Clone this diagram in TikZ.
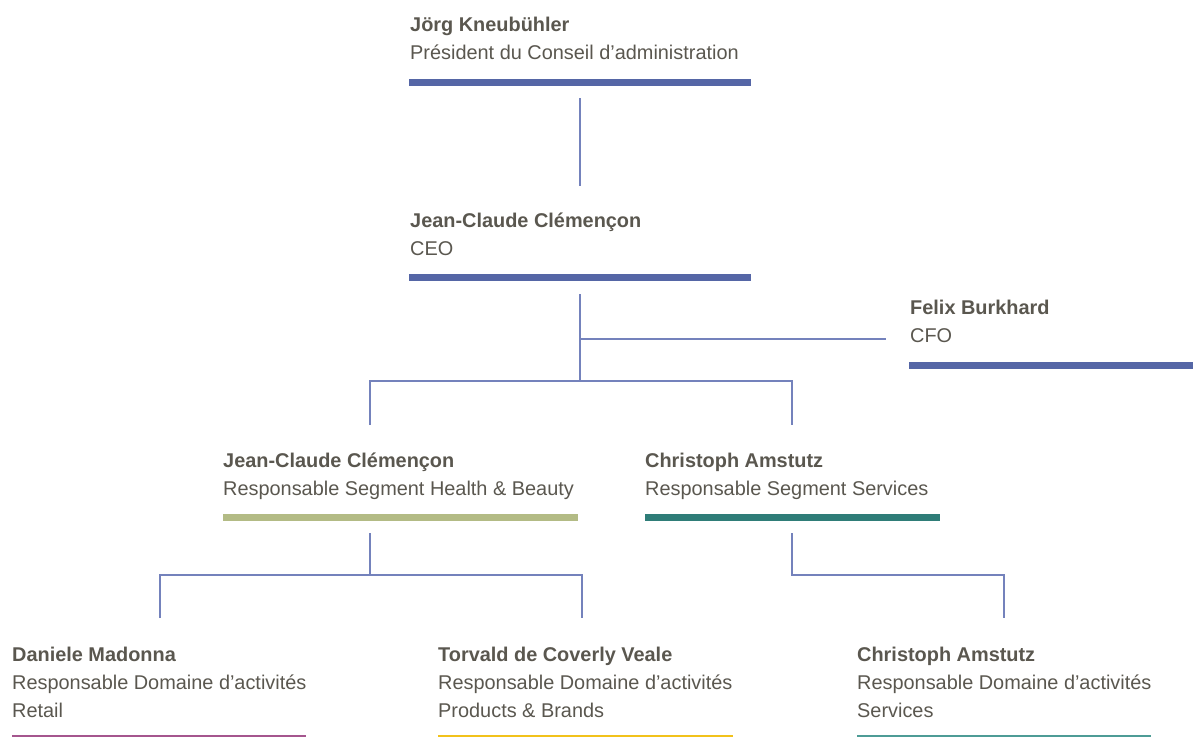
\documentclass[tikz,border=0pt]{standalone}
\usepackage{fontspec}
\setmainfont{Liberation Sans}
\usepackage{xcolor}
\definecolor{txtgray}{HTML}{5A574F}
\definecolor{boardblue}{HTML}{5566A6}
\definecolor{linkblue}{HTML}{7482BC}
\definecolor{hbolive}{HTML}{B3BB85}
\definecolor{servteal}{HTML}{2F7D78}
\definecolor{retailmag}{HTML}{A5568E}
\definecolor{brandyel}{HTML}{F2C21B}
\definecolor{svclight}{HTML}{4E9C96}
\tikzstyle{who} = [anchor=base west, inner sep=0pt, text=txtgray, font=\fontsize{19.9}{24}\selectfont\bfseries]
\tikzstyle{role} = [anchor=base west, inner sep=0pt, text=txtgray, font=\fontsize{19.9}{24}\selectfont]
\tikzstyle{bar} = [anchor=north west, inner sep=0pt, draw=none, minimum height=7pt]
\tikzstyle{rule} = [anchor=north west, inner sep=0pt, draw=none, minimum height=1.5pt]
\tikzstyle{link} = [draw=linkblue, line width=1.5pt]

\begin{document}
\begin{tikzpicture}[x=1pt,y=-1pt]
  \useasboundingbox (0,0) rectangle (1193,737);

  % board and management
  \node[who] (vrp) at (410,31) {Jörg Kneubühler};
  \node[role] (vrp_r) at (410,59) {Président du Conseil d’administration};
  \node[bar, fill=boardblue, minimum width=342pt] (vrp_b) at (409,79) {};

  \node[who] (ceo) at (410,227) {Jean-Claude Clémençon};
  \node[role] (ceo_r) at (410,255) {CEO};
  \node[bar, fill=boardblue, minimum width=342pt] (ceo_b) at (409,274) {};

  \node[who] (cfo) at (910,314) {Felix Burkhard};
  \node[role] (cfo_r) at (910,342) {CFO};
  \node[bar, fill=boardblue, minimum width=284pt] (cfo_b) at (909,362) {};

  % segments
  \node[who] (hb) at (223,467) {Jean-Claude Clémençon};
  \node[role] (hb_r) at (223,495) {Responsable Segment Health \& Beauty};
  \node[bar, fill=hbolive, minimum width=355pt] (hb_b) at (223,514) {};

  \node[who] (sv) at (645,467) {Christoph Amstutz};
  \node[role] (sv_r) at (645,495) {Responsable Segment Services};
  \node[bar, fill=servteal, minimum width=295pt] (sv_b) at (645,514) {};

  % business units
  \node[who] (rt) at (12,661) {Daniele Madonna};
  \node[role] (rt_r) at (12,689) {Responsable Domaine d’activités};
  \node[role] (rt_s) at (12,717) {Retail};
  \node[rule, fill=retailmag, minimum width=294pt] (rt_b) at (12,735) {};

  \node[who] (pb) at (438,661) {Torvald de Coverly Veale};
  \node[role] (pb_r) at (438,689) {Responsable Domaine d’activités};
  \node[role] (pb_s) at (438,717) {Products \& Brands};
  \node[rule, fill=brandyel, minimum width=295pt] (pb_b) at (438,735) {};

  \node[who] (bs) at (857,661) {Christoph Amstutz};
  \node[role] (bs_r) at (857,689) {Responsable Domaine d’activités};
  \node[role] (bs_s) at (857,717) {Services};
  \node[rule, fill=svclight, minimum width=294pt] (bs_b) at (857,735) {};

  % connector ends
  \coordinate (vrp_o) at (580,98);
  \coordinate (ceo_i) at (580,186);
  \coordinate (ceo_o) at (580,294);
  \coordinate (ceo_j) at (580,339);
  \coordinate (ceo_k) at (580,381);
  \coordinate (cfo_i) at (886,339);
  \coordinate (hb_i) at (370,425);
  \coordinate (sv_i) at (792,425);
  \coordinate (hb_o) at (370,533);
  \coordinate (hb_k) at (370,575);
  \coordinate (rt_i) at (160,618);
  \coordinate (pb_i) at (582,618);
  \coordinate (sv_o) at (792,533);
  \coordinate (bs_i) at (1004,618);

  \draw[link] (vrp_o) -- (ceo_i);
  \draw[link] (ceo_o) -- (ceo_k);
  \draw[link] (ceo_j) -- (cfo_i);
  \draw[link] (hb_i) |- (ceo_k) -| (sv_i);
  \draw[link] (hb_o) -- (hb_k);
  \draw[link] (rt_i) |- (hb_k) -| (pb_i);
  \draw[link] (sv_o) |- (bs_i |- hb_k) -- (bs_i);
\end{tikzpicture}
\end{document}
